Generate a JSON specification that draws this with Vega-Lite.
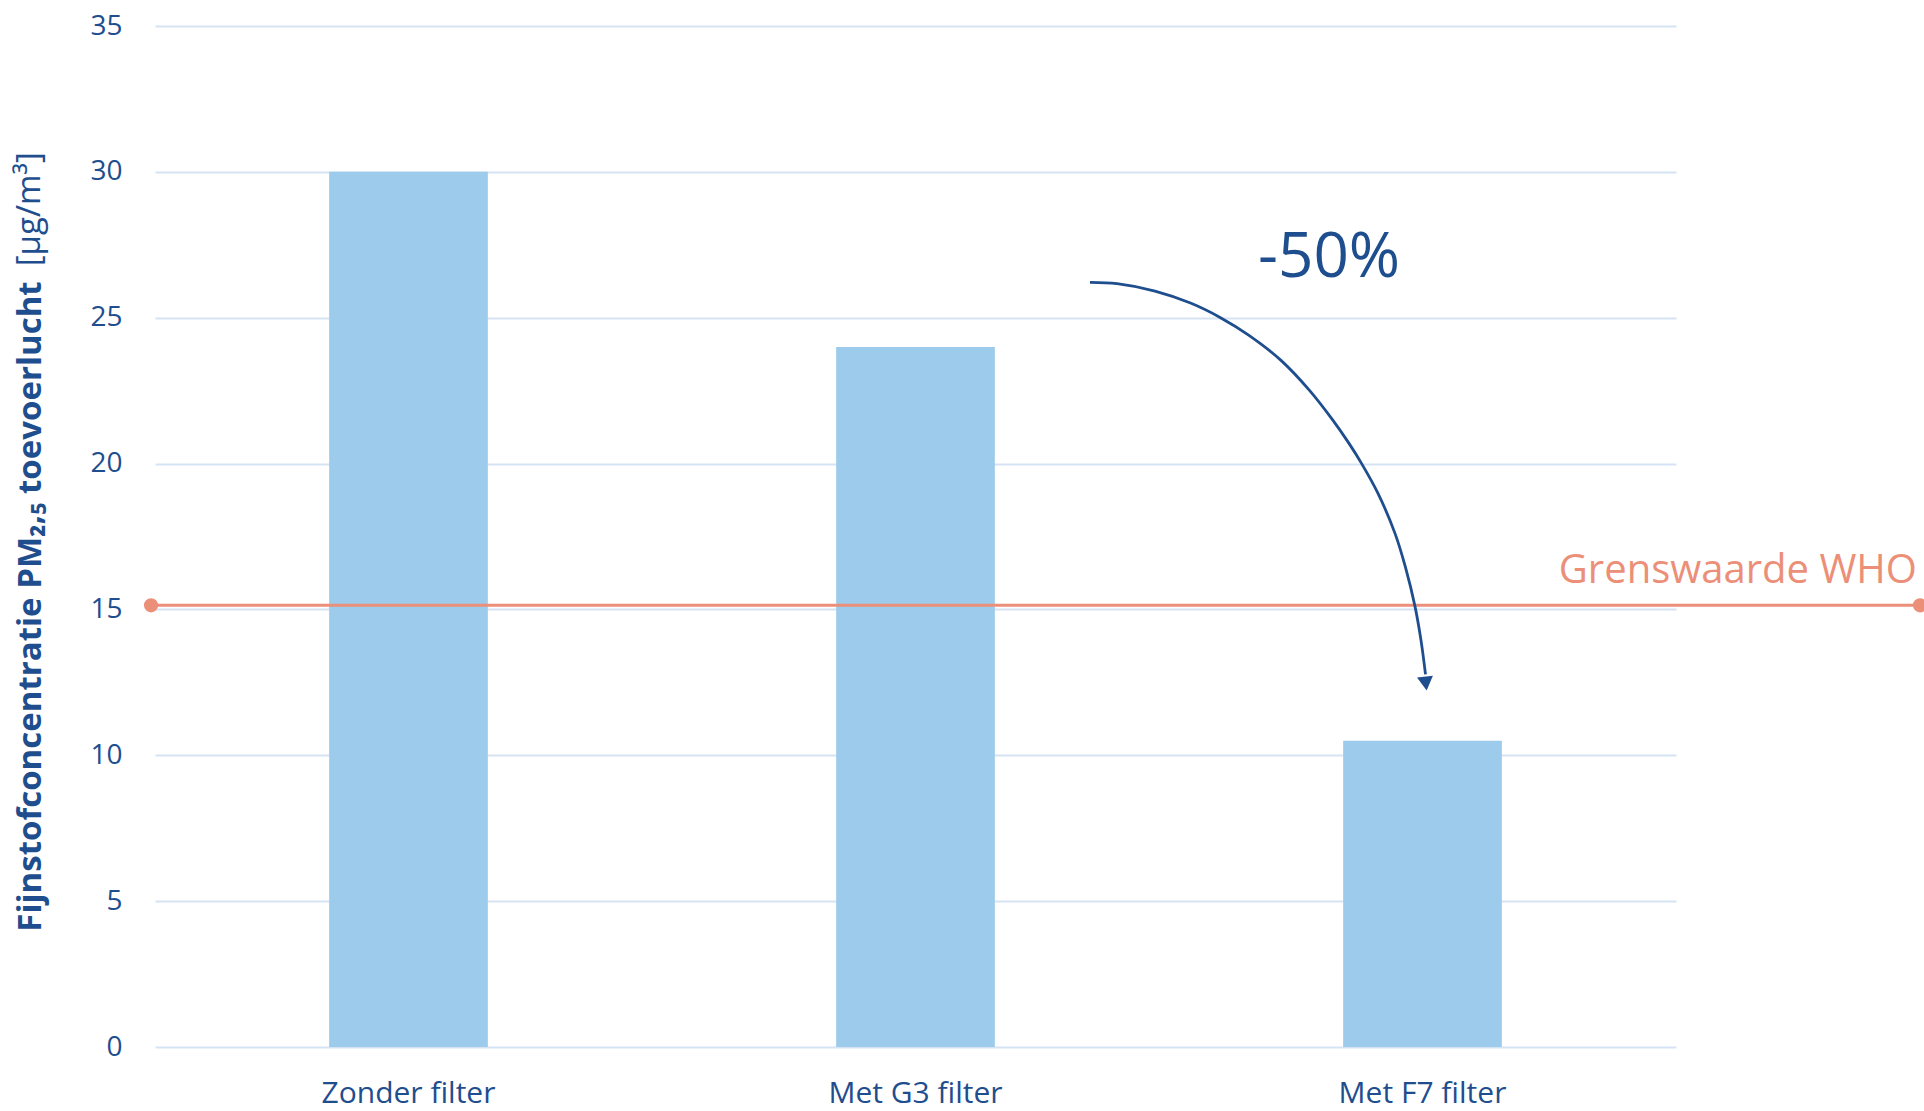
{
  "$schema": "https://vega.github.io/schema/vega-lite/v6.json",
  "width": 1521,
  "height": 1021,
  "autosize": {"type": "none"},
  "padding": {"left": 155, "top": 26, "right": 248, "bottom": 64},
  "background": "white",
  "config": {"view": {"stroke": null}, "font": "Open Sans"},
  "datasets": {
    "bars": [
      {"cat": "Zonder filter", "y": 30},
      {"cat": "Met G3 filter", "y": 24},
      {"cat": "Met F7 filter", "y": 10.5}
    ],
    "who": [
      {"x": -0.0026, "y": 15.14},
      {"x": 1.1604, "y": 15.14}
    ],
    "arrow": [
      {"i": 1, "x": 0.61473, "y": 26.212},
      {"i": 2, "x": 0.63248, "y": 26.167},
      {"i": 3, "x": 0.65746, "y": 25.913},
      {"i": 4, "x": 0.6808, "y": 25.502},
      {"i": 5, "x": 0.70053, "y": 25.002},
      {"i": 6, "x": 0.71926, "y": 24.395},
      {"i": 7, "x": 0.7403, "y": 23.538},
      {"i": 8, "x": 0.75904, "y": 22.51},
      {"i": 9, "x": 0.77449, "y": 21.481},
      {"i": 10, "x": 0.78501, "y": 20.692},
      {"i": 11, "x": 0.79323, "y": 20.007},
      {"i": 12, "x": 0.80407, "y": 18.978},
      {"i": 13, "x": 0.81525, "y": 17.607},
      {"i": 14, "x": 0.82216, "y": 16.442},
      {"i": 15, "x": 0.8284, "y": 15.105},
      {"i": 16, "x": 0.83235, "y": 13.939},
      {"i": 17, "x": 0.83531, "y": 12.773}
    ],
    "head": [{"x": 0.8355, "y": 12.46}],
    "labels": [
      {"x": 1.1584, "y": 15.9, "t": "Grenswaarde WHO"}
    ],
    "pct": [{"x": 0.7719, "y": 26.39, "t": "-50%"}],
    "unit": [{"x": -0.0822, "y": 28.72, "t": "[µg/m³]"}]
  },
  "encoding": {
    "y": {
      "field": "y",
      "type": "quantitative",
      "title": "Fijnstofconcentratie PM₂,₅ toevoerlucht",
      "scale": {"domain": [0, 35], "nice": false, "zero": true},
      "axis": {
        "values": [0, 5, 10, 15, 20, 25, 30, 35],
        "domain": false,
        "ticks": false,
        "labelPadding": 33,
        "labelFontSize": 28,
        "labelColor": "#1F4E8E",
        "gridColor": "#D6E3F4",
        "gridWidth": 2,
        "titleFontSize": 33,
        "titleFontWeight": "bold",
        "titleColor": "#1F4E8E",
        "titleAngle": 270,
        "titleAlign": "center",
        "titleBaseline": "middle",
        "titleX": -125,
        "titleY": 580
      }
    }
  },
  "layer": [
    {
      "data": {"name": "bars"},
      "mark": {"type": "bar", "color": "#9DCBEB"},
      "encoding": {
        "x": {
          "field": "cat",
          "type": "nominal",
          "sort": null,
          "title": null,
          "scale": {"paddingInner": 0.687, "paddingOuter": 0.3435},
          "axis": {
            "domain": false,
            "ticks": false,
            "grid": false,
            "labelAngle": 0,
            "labelFontSize": 30,
            "labelColor": "#1F4E8E",
            "labelPadding": 31
          }
        }
      }
    },
    {
      "data": {"name": "who"},
      "mark": {"type": "line", "color": "#EC8F78", "strokeWidth": 3},
      "encoding": {
        "x": {"field": "x", "type": "quantitative", "scale": {"domain": [0, 1], "nice": false, "zero": false}, "axis": null}
      }
    },
    {
      "data": {"name": "who"},
      "mark": {"type": "point", "shape": "circle", "filled": true, "color": "#EC8F78", "size": 200, "opacity": 1},
      "encoding": {
        "x": {"field": "x", "type": "quantitative", "scale": {"domain": [0, 1], "nice": false, "zero": false}, "axis": null}
      }
    },
    {
      "data": {"name": "arrow"},
      "mark": {"type": "line", "color": "#1F4E8E", "strokeWidth": 2.8, "interpolate": "catmull-rom"},
      "encoding": {
        "x": {"field": "x", "type": "quantitative", "scale": {"domain": [0, 1], "nice": false, "zero": false}, "axis": null},
        "order": {"field": "i"}
      }
    },
    {
      "data": {"name": "head"},
      "mark": {"type": "point", "shape": "triangle-down", "filled": true, "color": "#1F4E8E", "size": 256, "opacity": 1, "angle": -7},
      "encoding": {
        "x": {"field": "x", "type": "quantitative", "scale": {"domain": [0, 1], "nice": false, "zero": false}, "axis": null}
      }
    },
    {
      "data": {"name": "labels"},
      "mark": {"type": "text", "align": "right", "baseline": "alphabetic", "fontSize": 40, "color": "#EC8F78"},
      "encoding": {
        "x": {"field": "x", "type": "quantitative", "scale": {"domain": [0, 1], "nice": false, "zero": false}, "axis": null},
        "text": {"field": "t"}
      }
    },
    {
      "data": {"name": "pct"},
      "mark": {"type": "text", "align": "center", "baseline": "alphabetic", "fontSize": 62, "color": "#1F4E8E"},
      "encoding": {
        "x": {"field": "x", "type": "quantitative", "scale": {"domain": [0, 1], "nice": false, "zero": false}, "axis": null},
        "text": {"field": "t"}
      }
    },
    {
      "data": {"name": "unit"},
      "mark": {"type": "text", "align": "center", "baseline": "middle", "angle": 270, "fontSize": 33, "color": "#1F4E8E"},
      "encoding": {
        "x": {"field": "x", "type": "quantitative", "scale": {"domain": [0, 1], "nice": false, "zero": false}, "axis": null},
        "text": {"field": "t"}
      }
    }
  ],
  "resolve": {"scale": {"x": "independent"}, "axis": {"x": "independent"}}
}
